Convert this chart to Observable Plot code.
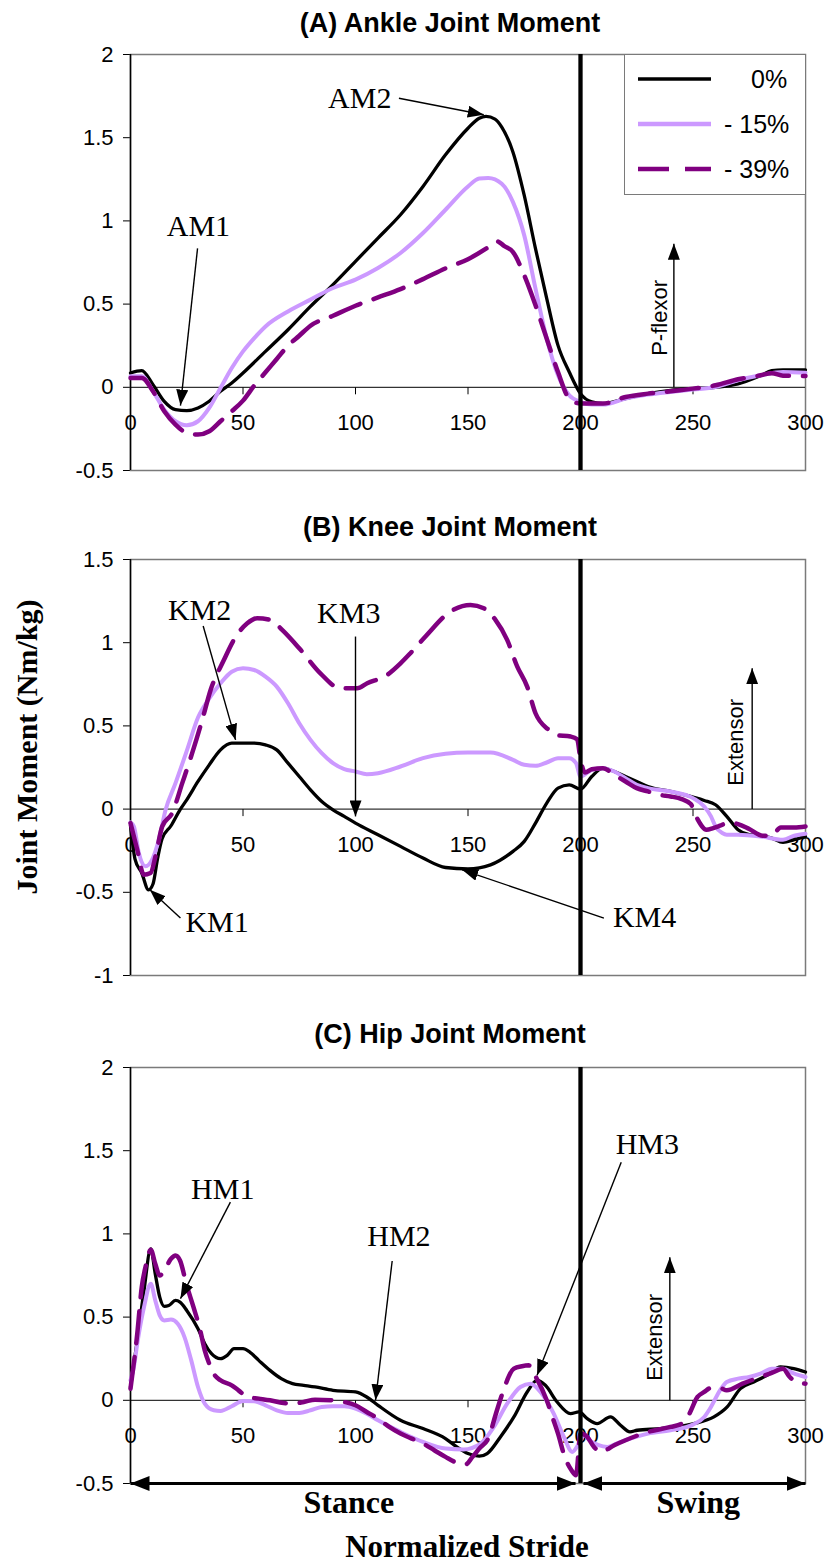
<!DOCTYPE html>
<html>
<head>
<meta charset="utf-8">
<script src="https://cdn.jsdelivr.net/npm/d3@7"></script>
<script src="https://cdn.jsdelivr.net/npm/@observablehq/plot@0.6"></script>
<style>
  html, body { margin: 0; padding: 0; background: #fff; }
  #fig { position: relative; width: 831px; height: 1568px; overflow: hidden; background: #fff;
         font-family: "Liberation Sans", Arial, sans-serif; color: #000; }
  .panel { position: absolute; left: 0; }
  .title { position: absolute; font-weight: bold; font-size: 27px; white-space: nowrap;
           transform: translate(-50%, -50%); font-family: "Liberation Sans", Arial, sans-serif; }
  .serifbold { position: absolute; font-weight: bold; white-space: nowrap; line-height: 1.1;
               font-family: "Liberation Serif", "Times New Roman", serif; font-size: 31px; }
  #legend { position: absolute; left: 624px; top: 54px; width: 182px; height: 141px; box-sizing: border-box;
            border: 1.5px solid #7a7a7a; background: #fff; }
</style>
</head>
<body>
<div id="fig"></div>
<script>
// ---------------- data ----------------
const xTicks = [0, 50, 100, 150, 200, 250, 300];
const yTicksAnkle = [-0.5, 0, 0.5, 1, 1.5, 2];
const yTicksKnee = [-1, -0.5, 0, 0.5, 1, 1.5];
const yTicksHip = [-0.5, 0, 0.5, 1, 1.5, 2];
const seriesNames = ["0%", "- 15%", "- 39%"];
const seriesColors = ["#000000", "#cc99ff", "#800080"];

// (A) Ankle joint moment [stride, Nm/kg]
const ankle0 = [[0,0.086],[5,0.10],[10,0.016],[15,-0.084],[20,-0.134],[25,-0.14],[30,-0.124],[35,-0.084],[40,-0.024],[45,0.026],[50,0.086],[60,0.216],[70,0.346],[80,0.486],[90,0.617],[100,0.757],[110,0.897],[120,1.037],[130,1.207],[140,1.397],[150,1.557],[155,1.617],[158,1.628],[162,1.612],[165,1.564],[170,1.413],[175,1.153],[180,0.833],[185,0.533],[190,0.252],[195,0.092],[200,-0.038],[205,-0.088],[210,-0.098],[220,-0.068],[230,-0.038],[240,-0.018],[250,-0.008],[260,0.0],[270,0.02],[280,0.07],[285,0.10],[290,0.105],[300,0.105]];
const ankle15 = [[0,0.066],[5,0.066],[10,-0.024],[15,-0.134],[20,-0.204],[25,-0.228],[30,-0.204],[35,-0.124],[40,-0.004],[45,0.116],[50,0.216],[55,0.296],[60,0.366],[70,0.456],[80,0.527],[90,0.597],[100,0.647],[110,0.717],[120,0.807],[130,0.927],[140,1.067],[150,1.207],[155,1.255],[159,1.258],[165,1.223],[170,1.113],[175,0.913],[180,0.593],[185,0.292],[190,0.072],[195,-0.048],[200,-0.088],[205,-0.104],[210,-0.104],[220,-0.068],[230,-0.044],[240,-0.028],[250,-0.014],[260,0.002],[270,0.042],[280,0.072],[290,0.092],[300,0.088]];
const ankle39 = [[0,0.056],[5,0.056],[10,-0.024],[15,-0.144],[20,-0.224],[25,-0.274],[30,-0.284],[35,-0.264],[40,-0.204],[45,-0.144],[50,-0.08],[55,0.01],[60,0.09],[65,0.17],[70,0.25],[75,0.31],[80,0.37],[90,0.43],[100,0.49],[110,0.54],[120,0.59],[130,0.65],[140,0.715],[150,0.77],[160,0.85],[163,0.877],[166,0.85],[170,0.813],[175,0.673],[180,0.493],[185,0.292],[190,0.092],[195,-0.068],[200,-0.098],[210,-0.098],[220,-0.058],[230,-0.038],[240,-0.024],[250,-0.008],[260,0.012],[270,0.048],[280,0.072],[285,0.085],[290,0.07],[300,0.068]];

// (B) Knee joint moment
const knee0 = [[0,-0.1],[2,-0.3],[5,-0.384],[8,-0.485],[10,-0.45],[12,-0.3],[14,-0.18],[18,-0.1],[22,-0.004],[25,0.056],[30,0.166],[35,0.266],[40,0.356],[45,0.396],[50,0.396],[55,0.396],[60,0.386],[65,0.356],[70,0.276],[75,0.196],[80,0.116],[85,0.046],[90,-0.004],[95,-0.044],[100,-0.084],[110,-0.154],[120,-0.224],[130,-0.294],[140,-0.351],[150,-0.359],[160,-0.335],[170,-0.254],[175,-0.194],[180,-0.084],[185,0.036],[190,0.126],[195,0.146],[200,0.12],[205,0.196],[210,0.246],[215,0.226],[220,0.196],[225,0.166],[230,0.136],[240,0.106],[250,0.072],[255,0.052],[260,0.026],[265,-0.044],[270,-0.124],[275,-0.154],[280,-0.16],[285,-0.174],[290,-0.2],[295,-0.184],[300,-0.164]];
const knee15 = [[0,-0.08],[1.5,-0.104],[3.7,-0.264],[6.7,-0.344],[9.6,-0.304],[12.6,-0.184],[15.6,-0.004],[20,0.156],[25,0.35],[30,0.55],[35,0.665],[40,0.756],[45,0.826],[50,0.846],[55,0.836],[60,0.796],[65,0.736],[70,0.636],[75,0.516],[80,0.416],[85,0.336],[90,0.276],[95,0.24],[100,0.226],[105,0.21],[110,0.216],[120,0.256],[130,0.306],[140,0.332],[150,0.34],[160,0.34],[170,0.296],[175,0.266],[180,0.26],[185,0.28],[190,0.306],[195,0.306],[198,0.276],[200,0.196],[205,0.236],[210,0.246],[215,0.226],[220,0.186],[225,0.146],[230,0.126],[240,0.106],[250,0.066],[255,0.016],[258,-0.044],[260,-0.104],[263,-0.144],[265,-0.154],[270,-0.154],[280,-0.164],[290,-0.184],[295,-0.16],[300,-0.148]];
const knee39 = [[0,-0.084],[3,-0.244],[5.9,-0.394],[8.9,-0.384],[11.1,-0.284],[14.1,-0.104],[18.5,-0.024],[23,0.156],[27.4,0.336],[31.9,0.537],[35.6,0.716],[41.5,0.896],[45.9,1.016],[51.9,1.117],[56.3,1.147],[62.2,1.137],[67.4,1.077],[75.6,0.957],[84.4,0.816],[93.3,0.726],[100.7,0.726],[105.2,0.756],[114,0.806],[120,0.876],[124.4,0.937],[131.1,1.037],[142.2,1.187],[151.1,1.227],[157,1.207],[162.2,1.137],[167.4,1.017],[171.9,0.856],[176.3,0.736],[180,0.576],[185.9,0.476],[188.9,0.446],[195.6,0.436],[198.5,0.42],[200,0.3],[202,0.22],[205,0.24],[210,0.246],[215,0.206],[220,0.166],[225,0.126],[230,0.106],[235,0.086],[240,0.076],[245,0.06],[249,0.03],[252,-0.06],[256,-0.124],[259,-0.114],[262,-0.1],[266,-0.08],[270,-0.09],[275,-0.12],[281,-0.16],[285,-0.16],[289,-0.11],[295,-0.11],[300,-0.104]];

// (C) Hip joint moment
const hip0 = [[0,0.08],[3,0.36],[6,0.66],[9,0.91],[11,0.76],[13,0.62],[15,0.565],[17,0.57],[20,0.60],[22,0.59],[25,0.54],[30,0.43],[33,0.34],[36,0.28],[40,0.25],[43,0.27],[46,0.31],[50,0.31],[53,0.29],[57,0.24],[62,0.18],[67,0.13],[72,0.10],[77,0.09],[82,0.08],[90,0.06],[100,0.05],[105,0.02],[110,-0.03],[120,-0.12],[130,-0.17],[140,-0.23],[145,-0.28],[150,-0.32],[155,-0.336],[158.5,-0.32],[164.4,-0.22],[170.4,-0.10],[176.3,0.05],[180.7,0.12],[184.4,0.09],[189.6,-0.01],[195.6,-0.08],[199.3,-0.07],[203,-0.11],[207.4,-0.14],[213.3,-0.10],[217.8,-0.15],[222,-0.19],[225.2,-0.18],[235.6,-0.17],[250.4,-0.14],[259.3,-0.10],[265.2,-0.04],[271.1,0.07],[277,0.11],[282.9,0.15],[288.9,0.20],[294.8,0.19],[300,0.17]];
const hip15 = [[0,0.12],[1.5,0.2],[3,0.34],[6,0.56],[9,0.70],[11,0.60],[13,0.51],[15,0.48],[18,0.485],[21,0.46],[24,0.38],[27,0.24],[30,0.08],[33,-0.02],[37,-0.06],[40,-0.064],[45,-0.036],[50,-0.004],[55,-0.006],[60,-0.03],[65,-0.06],[70,-0.076],[75,-0.076],[80,-0.06],[85,-0.04],[90,-0.036],[95,-0.036],[100,-0.05],[105,-0.08],[110,-0.12],[120,-0.19],[130,-0.25],[140,-0.29],[148,-0.295],[155.6,-0.26],[161.5,-0.16],[167.4,-0.02],[173.3,0.08],[177.8,0.10],[182.2,0.05],[188.1,-0.08],[192.6,-0.22],[196.3,-0.31],[199.3,-0.26],[201.5,-0.21],[204,-0.24],[208,-0.27],[212,-0.28],[216,-0.26],[220,-0.24],[230,-0.20],[240,-0.18],[250,-0.146],[255,-0.10],[258,-0.04],[262,0.06],[265,0.11],[270,0.13],[275,0.14],[280,0.16],[285,0.19],[290,0.19],[295,0.16],[300,0.14]];
const hip39 = [[0,0.07],[3,0.40],[5,0.68],[7,0.82],[9,0.905],[11,0.82],[13,0.75],[15,0.78],[18,0.85],[20,0.87],[22,0.84],[25,0.69],[28,0.56],[31,0.42],[33,0.30],[35,0.22],[37,0.16],[40,0.12],[45,0.09],[48,0.06],[52,0.02],[57,0.01],[62,0.0],[68,-0.016],[72,-0.02],[77,-0.01],[82,0.004],[90,0.0],[95,-0.01],[100,-0.03],[105,-0.07],[110,-0.11],[115,-0.16],[120,-0.20],[125,-0.23],[130,-0.26],[135,-0.30],[140,-0.34],[145,-0.375],[149,-0.385],[152,-0.34],[155,-0.29],[159.3,-0.22],[162.2,-0.09],[165,0.03],[170.4,0.19],[174,0.205],[177,0.21],[180,0.144],[185,0.0],[188,-0.12],[190,-0.2],[193,-0.34],[196,-0.42],[198,-0.45],[200,-0.2],[203,-0.22],[206,-0.28],[209,-0.31],[215,-0.27],[220,-0.24],[230,-0.19],[240,-0.16],[245,-0.14],[248,-0.09],[252,0.02],[255,0.05],[258,0.074],[262,0.074],[265,0.06],[272,0.1],[280,0.14],[285,0.165],[290,0.19],[293,0.14],[296,0.11],[300,0.10]];

// annotations: label position (tx,ty) and arrow from (x1,y1) to tip (x2,y2), in data units
const ankleNotes = [
  {label: "AM1", tx: 30.2, ty: 0.97, x1: 29.8, y1: 0.835, x2: 22.2, y2: -0.11},
  {label: "AM2", tx: 101.9, ty: 1.736, x1: 119.3, y1: 1.737, x2: 157, y2: 1.638}
];
const kneeNotes = [
  {label: "KM1", tx: 38.5, ty: -0.681, x1: 22.2, y1: -0.655, x2: 8.6, y2: -0.485},
  {label: "KM2", tx: 30.7, ty: 1.197, x1: 32.3, y1: 1.10, x2: 46.7, y2: 0.416},
  {label: "KM3", tx: 97, ty: 1.177, x1: 100, y1: 1.037, x2: 100, y2: -0.044},
  {label: "KM4", tx: 228.5, ty: -0.649, x1: 210.4, y1: -0.655, x2: 147.4, y2: -0.365}
];
const hipNotes = [
  {label: "HM1", tx: 41.0, ty: 1.266, x1: 44.4, y1: 1.191, x2: 22.2, y2: 0.611},
  {label: "HM2", tx: 119.3, ty: 0.986, x1: 116.3, y1: 0.837, x2: 108.9, y2: 0.0},
  {label: "HM3", tx: 229.7, ty: 1.54, x1: 218.1, y1: 1.43, x2: 180.7, y2: 0.15}
];
// direction arrows (from y=0 upward) with rotated labels
const ankleDir = {label: "P-flexor", x: 241.5, y1: 0, y2: 0.863, tx: 235.1, ty: 0.417};
const kneeDir = {label: "Extensor", x: 276.3, y1: 0, y2: 0.847, tx: 269, ty: 0.401};
const hipDir = {label: "Extensor", x: 239.7, y1: 0, y2: 0.859, tx: 233.3, ty: 0.378};
// gait phases on panel C
const phases = [
  {label: "Stance", x1: 0, x2: 197.8, tx: 97},
  {label: "Swing", x1: 201.3, x2: 300, tx: 252.3}
];

// ---------------- drawing ----------------
const NS = "http://www.w3.org/2000/svg";
const lineWidths = [3.3, 4, 4.5];
const lineDash = [null, null, "32,14"];

function makeArrow(len, wid) {
  return function (color) {
    const m = document.createElementNS(NS, "marker");
    m.setAttribute("viewBox", `0 ${-wid / 2} ${len} ${wid}`);
    m.setAttribute("refX", String(len));
    m.setAttribute("refY", "0");
    m.setAttribute("markerWidth", String(len));
    m.setAttribute("markerHeight", String(wid));
    m.setAttribute("markerUnits", "userSpaceOnUse");
    m.setAttribute("orient", "auto-start-reverse");
    const p = document.createElementNS(NS, "path");
    p.setAttribute("d", `M0,${-wid / 2}L${len},0L0,${wid / 2}Z`);
    p.setAttribute("fill", typeof color === "string" && color !== "currentColor" ? color : "#000");
    p.setAttribute("stroke", "none");
    m.appendChild(p);
    return m;
  };
}

const tickDown = { draw(ctx) { ctx.moveTo(0, 0); ctx.lineTo(0, 7); } };

function buildPanel(cfg, custom) {
  const headSmall = custom ? makeArrow(16, 12) : "arrow";
  const headBig = custom ? makeArrow(19, 15) : "arrow";
  const marks = [
    Plot.frame({stroke: "#7a7a7a", strokeWidth: 1.5}),
    Plot.ruleY([0], {stroke: "#000", strokeWidth: 1}),
    Plot.ruleX([0], {stroke: "#000", strokeWidth: 1.5}),
    Plot.dot(xTicks.slice(1, -1), {x: d => d, y: 0, symbol: tickDown, stroke: "#000", fill: "none", strokeWidth: 1}),
    Plot.text(xTicks, {x: d => d, y: 0, dy: 36, text: d => String(d), fontSize: 22, fill: "#000"})
  ];
  cfg.series.forEach((data, i) => {
    marks.push(Plot.line(data, {
      x: d => d[0], y: d => d[1], stroke: seriesColors[i], strokeWidth: lineWidths[i],
      strokeDasharray: lineDash[i] || undefined, curve: "monotone-x"
    }));
  });
  marks.push(Plot.ruleX([200], {stroke: "#000", strokeWidth: 4.3}));
  marks.push(Plot.text(cfg.notes, {x: "tx", y: "ty", text: "label", fontFamily: "'Liberation Serif', 'Times New Roman', serif", fontSize: 30, fill: "#000"}));
  marks.push(Plot.link(cfg.notes, {x1: "x1", y1: "y1", x2: "x2", y2: "y2", stroke: "#000", strokeWidth: 1.4, markerEnd: headSmall}));
  marks.push(Plot.link([cfg.dir], {x1: "x", x2: "x", y1: "y1", y2: "y2", stroke: "#000", strokeWidth: 1.4, markerEnd: headSmall}));
  marks.push(Plot.text([cfg.dir], {x: "tx", y: "ty", text: "label", rotate: -90, fontSize: 22, fill: "#000"}));
  if (cfg.phases) {
    marks.push(Plot.link(cfg.phases, {x1: "x1", x2: "x2", y1: () => -0.5, y2: () => -0.5, stroke: "#000", strokeWidth: 3, markerStart: headBig, markerEnd: headBig}));
    marks.push(Plot.text(cfg.phases, {x: "tx", y: () => -0.5, dy: 19, text: "label", fontFamily: "'Liberation Serif', 'Times New Roman', serif", fontWeight: "bold", fontSize: 32, fill: "#000"}));
  }
  return Plot.plot({
    width: 831,
    height: 30 + 416 + cfg.marginBottom,
    marginLeft: 130, marginRight: 26, marginTop: 30, marginBottom: cfg.marginBottom,
    x: {domain: [0, 300], axis: null},
    y: {domain: cfg.domain, ticks: cfg.ticks, tickFormat: d => String(d), tickSize: 7, tickPadding: 10, label: null},
    style: {fontFamily: "'Liberation Sans', Arial, sans-serif", fontSize: "22px", color: "#000", background: "transparent", overflow: "visible"},
    marks
  });
}

const panels = [
  {top: 54, title: "(A) Ankle Joint Moment", titleY: 23, series: [ankle0, ankle15, ankle39], domain: [-0.5, 2], ticks: yTicksAnkle, notes: ankleNotes, dir: ankleDir, marginBottom: 30},
  {top: 559, title: "(B) Knee Joint Moment", titleY: 527, series: [knee0, knee15, knee39], domain: [-1, 1.5], ticks: yTicksKnee, notes: kneeNotes, dir: kneeDir, marginBottom: 30},
  {top: 1067, title: "(C) Hip Joint Moment", titleY: 1034, series: [hip0, hip15, hip39], domain: [-0.5, 2], ticks: yTicksHip, notes: hipNotes, dir: hipDir, phases: phases, marginBottom: 55}
];

const fig = document.getElementById("fig");
panels.forEach(cfg => {
  let svg;
  try { svg = buildPanel(cfg, true); }
  catch (e) { svg = buildPanel(cfg, false); }
  svg.classList.add("panel");
  svg.style.position = "absolute";
  svg.style.left = "0px";
  svg.style.top = (cfg.top - 30) + "px";
  fig.appendChild(svg);
  const t = document.createElement("div");
  t.className = "title";
  t.textContent = cfg.title;
  t.style.left = "450px";
  t.style.top = cfg.titleY + "px";
  fig.appendChild(t);
});

// axis titles
const yl = document.createElement("div");
yl.className = "serifbold";
yl.textContent = "Joint Moment (Nm/kg)";
yl.style.fontSize = "30px";
yl.style.left = "26px"; yl.style.top = "747px";
yl.style.transform = "translate(-50%, -50%) rotate(-90deg)";
fig.appendChild(yl);

const xl = document.createElement("div");
xl.className = "serifbold";
xl.textContent = "Normalized Stride";
xl.style.fontSize = "31px";
xl.style.left = "467px"; xl.style.top = "1547px";
xl.style.transform = "translate(-50%, -50%)";
fig.appendChild(xl);

// legend (inside panel A, top right)
const leg = document.createElement("div");
leg.id = "legend";
const lsvg = d3.create("svg").attr("width", 180).attr("height", 138).style("display", "block");
const rowY = [24, 69, 114];
const textX = [126, 99, 99];
seriesNames.forEach((name, i) => {
  lsvg.append("line").attr("x1", 13).attr("x2", 86).attr("y1", rowY[i]).attr("y2", rowY[i])
    .attr("stroke", seriesColors[i]).attr("stroke-width", i === 0 ? 3.5 : 4.5)
    .attr("stroke-dasharray", lineDash[i] ? "31,16" : null);
  lsvg.append("text").attr("x", textX[i]).attr("y", rowY[i]).attr("dy", "0.35em")
    .attr("font-family", "'Liberation Sans', Arial, sans-serif").attr("font-size", 25).attr("fill", "#000")
    .text(name);
});
leg.appendChild(lsvg.node());
fig.appendChild(leg);
</script>
</body>
</html>
